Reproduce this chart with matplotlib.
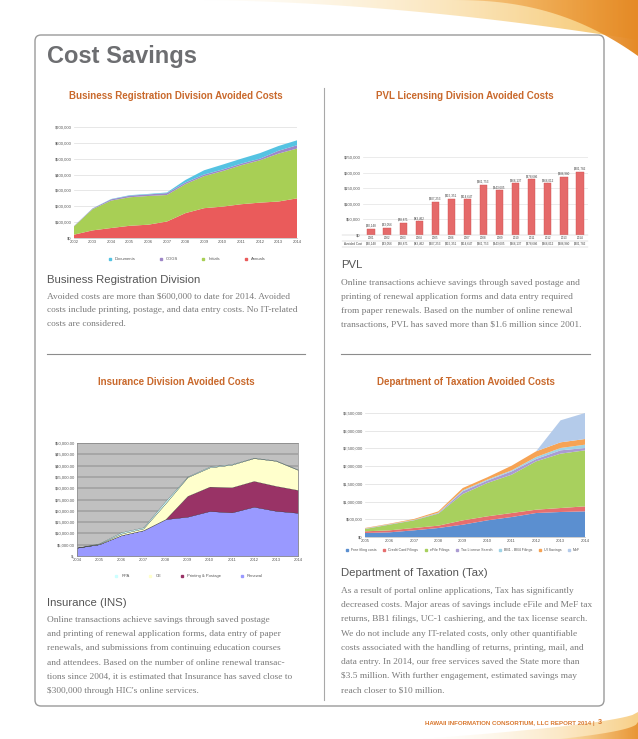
import matplotlib
matplotlib.use("Agg")
import matplotlib.pyplot as plt
import numpy as np
from matplotlib.patches import FancyBboxPatch, Polygon
from matplotlib.lines import Line2D

plt.rcParams['font.family'] = ['Liberation Sans', 'DejaVu Sans']

W, H = 638, 739

# Business Registration
br_years = list(range(2002, 2015))
br_annuals = [21000, 48000, 63000, 77000, 84000, 104000, 157000, 188000, 198000, 213000, 223000, 230000, 250000]
br_initials = [52000, 134000, 173000, 180000, 181000, 167000, 183000, 202000, 224000, 246000, 267000, 302000, 314000]
br_cogs = [2000, 4000, 8000, 10000, 10000, 12000, 10000, 10000, 10000, 10000, 10000, 18000, 21000]
br_documents = [500, 1000, 2000, 3000, 3000, 4000, 16000, 27000, 31000, 31000, 35000, 30000, 31000]

# PVL
pvl_years = list(range(2001, 2015))
pvl_cost = [20148, 23056, 38871, 43462, 107253, 115351, 114647, 161753, 143605, 166137, 178686, 166012, 186980, 201782]

# Insurance
ins_years = list(range(2004, 2015))
ins_renewal = [3700, 5200, 9200, 11400, 16300, 17400, 19900, 19300, 21800, 20000, 19100]
ins_printing = [0, 0, 0, 0, 0, 9200, 10800, 11100, 11400, 11000, 10100]
ins_ce = [0, 200, 700, 800, 7000, 8300, 8500, 10000, 10100, 11100, 8900]
ins_rpa = [0, 200, 600, 500, 1000, 300, 400, 300, 200, 200, 200]

# Taxation
tax_years = list(range(2005, 2015))
tax_free = [113000, 132000, 188000, 254000, 348000, 470000, 564000, 677000, 706000, 724000]
tax_credit = [47000, 56000, 66000, 66000, 122000, 113000, 113000, 94000, 112000, 141000]
tax_efile = [66000, 160000, 216000, 339000, 744000, 941000, 1082000, 1364000, 1534000, 1581000]
tax_license = [9000, 9000, 10000, 18000, 75000, 66000, 94000, 66000, 94000, 66000]
tax_bb = [5000, 5000, 5000, 10000, 28000, 28000, 29000, 57000, 66000, 94000]
tax_ui = [14000, 14000, 23000, 37000, 66000, 66000, 131000, 160000, 160000, 160000]
tax_mef = [0, 0, 0, 0, 0, 0, 0, 0, 621000, 734000]

ORANGE = "#c9692c"
TICK = dict(labelsize=3, colors="#555555", length=0, pad=1.5)

fig = plt.figure(figsize=(W / 100, H / 100), dpi=100)
fig.patch.set_facecolor("white")

bg = fig.add_axes([0, 0, 1, 1])
bg.set_xlim(0, W)
bg.set_ylim(H, 0)
bg.axis("off")


def gradient_shape(pts, c0, c1, a0, a1):
    poly = Polygon(pts, closed=True, fc="none", ec="none")
    bg.add_patch(poly)
    xs = [p[0] for p in pts]
    ys = [p[1] for p in pts]
    g = np.zeros((2, 256, 4))
    r0, r1 = np.array(matplotlib.colors.to_rgb(c0)), np.array(matplotlib.colors.to_rgb(c1))
    t = np.linspace(0, 1, 256)
    g[:, :, :3] = r0 + (r1 - r0) * t[:, None]
    g[:, :, 3] = a0 + (a1 - a0) * t
    im = bg.imshow(g, extent=[min(xs), max(xs), max(ys), min(ys)], aspect="auto", zorder=1)
    im.set_clip_path(poly)


# decorative swooshes
t = np.linspace(0, 1, 40)
top_light = [(190, 0), (638, 0), (638, 40)] + [(638 - 448 * s, 40 * (1 - s) ** 1.8) for s in t]
gradient_shape(top_light, "#fbe6b8", "#f5bd55", 0.0, 0.9)
top_dark = [(450, 0), (638, 0), (638, 56)] + [(638 - 188 * s, 56 * (1 - s) ** 2.4) for s in t]
gradient_shape(top_dark, "#f2a748", "#e58a26", 0.4, 1.0)
bot_light = [(420, 739), (638, 739), (638, 712)] + [(638 - 218 * s, 712 + 27 * s ** 0.6) for s in t]
gradient_shape(bot_light, "#fdf0d8", "#f6c46a", 0.0, 0.8)
bot_dark = [(560, 739), (638, 739), (638, 722)] + [(638 - 78 * s, 722 + 17 * s ** 0.5) for s in t]
gradient_shape(bot_dark, "#f3b560", "#e78f2d", 0.2, 0.9)

box = FancyBboxPatch((35, 35), 569, 671, boxstyle="round,pad=0,rounding_size=6",
                     fc="white", ec="#9a9a9a", lw=1.0, zorder=2)
bg.add_patch(box)
bg.plot([324, 324], [88, 700], color="#a8a8a8", lw=0.8, zorder=3)
bg.plot([47, 305], [354, 354], color="#8c8c8c", lw=0.8, zorder=3)
bg.plot([341, 590], [354, 354], color="#8c8c8c", lw=0.8, zorder=3)

bg.text(47, 56, "Cost Savings", fontsize=17, fontweight="bold", color="#6d6e71", va="center", zorder=3)
for x, y, s in [(176, 96, "Business Registration Division Avoided Costs"),
                (465, 96, "PVL Licensing Division Avoided Costs"),
                (176, 382, "Insurance Division Avoided Costs"),
                (466, 382, "Department of Taxation Avoided Costs")]:
    bg.text(x, y, s, fontsize=7.0, fontweight="bold", color=ORANGE, ha="center", va="center", zorder=3)

HEAD = dict(fontsize=8.2, color="#555555", va="center", zorder=3)
BODY = dict(fontsize=6.75, color="#7a7a7a", va="center", zorder=3, family=["Liberation Serif", "DejaVu Serif"])

bg.text(47, 280, "Business Registration Division", **HEAD)
br_text = ["Avoided costs are more than $600,000 to date for 2014. Avoided",
           "costs include printing, postage, and data entry costs. No IT-related",
           "costs are considered."]
for i, s in enumerate(br_text):
    bg.text(47, 297 + 13.5 * i, s, **BODY)

bg.text(341, 265, "PVL", **HEAD)
pvl_text = ["Online transactions achieve savings through saved postage and",
            "printing of renewal application forms and data entry required",
            "from paper renewals. Based on the number of online renewal",
            "transactions, PVL has saved more than $1.6 million since 2001."]
for i, s in enumerate(pvl_text):
    bg.text(341, 283 + 14 * i, s, **BODY)

bg.text(47, 603, "Insurance (INS)", **HEAD)
ins_text = ["Online transactions achieve savings through saved postage",
            "and printing of renewal application forms, data entry of paper",
            "renewals, and submissions from continuing education courses",
            "and attendees. Based on the number of online renewal transac-",
            "tions since 2004, it is estimated that Insurance has saved close to",
            "$300,000 through HIC's online services."]
for i, s in enumerate(ins_text):
    bg.text(47, 620 + 14.2 * i, s, **BODY)

bg.text(341, 573, "Department of Taxation (Tax)", **HEAD)
tax_text = ["As a result of portal online applications, Tax has significantly",
            "decreased costs. Major areas of savings include eFile and MeF tax",
            "returns, BB1 filings, UC-1 cashiering, and the tax license search.",
            "We do not include any IT-related costs, only other quantifiable",
            "costs associated with the handling of returns, printing, mail, and",
            "data entry. In 2014, our free services saved the State more than",
            "$3.5 million. With further engagement, estimated savings may",
            "reach closer to $10 million."]
for i, s in enumerate(tax_text):
    bg.text(341, 591 + 14.2 * i, s, **BODY)

bg.text(595, 723, "HAWAII INFORMATION CONSORTIUM, LLC REPORT 2014 |", fontsize=4.4, fontweight="bold",
        color="#d9782f", ha="right", va="center", family=["Liberation Sans Narrow", "Liberation Sans"], zorder=3)
bg.text(598, 723, "3", fontsize=5.2, fontweight="bold", color="#d9782f", va="center", zorder=3)


def px_axes(x0, y0, x1, y1):
    return fig.add_axes([x0 / W, 1 - y1 / H, (x1 - x0) / W, (y1 - y0) / H])


def sq(color):
    return Line2D([], [], marker="s", ls="none", markersize=2, color=color)


# --- Business Registration chart ---
ax = px_axes(74, 127, 297, 238)
br_cols = ["#ea5b5b", "#a8cf55", "#9e87c7", "#55c3e2"]
ax.stackplot(br_years, br_annuals, br_initials, br_cogs, br_documents, colors=br_cols, lw=0)
ax.set_xlim(2002, 2014)
ax.set_ylim(0, 700000)
ax.set_xticks(br_years)
ax.set_yticks(range(0, 700001, 100000))
ax.yaxis.set_major_formatter(lambda v, p: f"${v:,.0f}")
ax.tick_params(**TICK)
ax.grid(axis="y", color="#dddddd", lw=0.5)
ax.set_axisbelow(True)
for s in ["top", "right", "left"]:
    ax.spines[s].set_visible(False)
ax.spines["bottom"].set_color("#bbbbbb")
ax.spines["bottom"].set_linewidth(0.5)
ax.legend([sq(c) for c in br_cols[::-1]], ["Documents", "COGS", "Initials", "Annuals"],
          loc="center", bbox_to_anchor=(0.5, -0.19), ncol=4, frameon=False, fontsize=3,
          handletextpad=0.3, columnspacing=5, labelcolor="#555555")

# --- PVL chart ---
ax = px_axes(363, 157, 588, 235)
xs = np.arange(len(pvl_years))
ax.bar(xs, pvl_cost, width=0.45, color="#e56a6a", edgecolor="#cf4f4f", lw=0.3)
for x, v in zip(xs, pvl_cost):
    ax.text(x, v + 3500, f"${v:,}", fontsize=2.2, ha="center", va="bottom", color="#444444")
ax.set_xlim(-0.5, len(pvl_years) - 0.5)
ax.set_ylim(0, 250000)
ax.set_yticks(range(0, 250001, 50000))
ax.yaxis.set_major_formatter(lambda v, p: f"${v:,.0f}")
ax.set_xticks([])
ax.tick_params(**TICK)
ax.grid(axis="y", color="#e3e3e3", lw=0.5)
ax.set_axisbelow(True)
for s in ["top", "right", "left", "bottom"]:
    ax.spines[s].set_visible(False)
tr = ax.get_xaxis_transform()
for yy in [0, -0.08, -0.15]:
    ax.plot([-0.5 - 1.3, len(pvl_years) - 0.5], [yy, yy], transform=tr, color="#bbbbbb", lw=0.3, clip_on=False)
for x, yr, v in zip(xs, pvl_years, pvl_cost):
    ax.text(x, -0.04, str(yr), transform=tr, fontsize=2.2, ha="center", va="center", color="#444444")
    ax.text(x, -0.115, f"${v:,}", transform=tr, fontsize=2.2, ha="center", va="center", color="#444444")
ax.text(-0.55, -0.115, "Avoided Cost", transform=tr, fontsize=2.2, ha="right", va="center", color="#444444")

# --- Insurance chart ---
ax = px_axes(77, 443, 298, 556)
ins_cols = ["#9999ff", "#993366", "#ffffcc", "#ccffff"]
ax.stackplot(ins_years, ins_renewal, ins_printing, ins_ce, ins_rpa, colors=ins_cols,
             edgecolor="#222222", lw=0.15)
ax.set_facecolor("#c0c0c0")
ax.set_xlim(2004, 2014)
ax.set_ylim(0, 50000)
ax.set_xticks(ins_years)
ax.set_yticks(range(0, 50001, 5000))
ax.yaxis.set_major_formatter(lambda v, p: "$-" if v == 0 else f"${v:,.2f}")
ax.tick_params(**TICK)
ax.grid(axis="y", color="#555555", lw=0.35)
ax.set_axisbelow(True)
for s in ax.spines.values():
    s.set_color("#888888")
    s.set_linewidth(0.5)
ax.legend([sq(c) for c in ["#ccffff", "#ffffcc", "#993366", "#9999ff"]],
          ["RPA", "CE", "Printing & Postage", "Renewal"],
          loc="center", bbox_to_anchor=(0.5, -0.18), ncol=4, frameon=False, fontsize=3,
          handletextpad=0.2, columnspacing=4, labelcolor="#555555")

# --- Taxation chart ---
ax = px_axes(365, 413, 585, 537)
tax_cols = ["#5b8fd0", "#e66e6e", "#a8d05e", "#aa9bd2", "#9fd3e6", "#f6a354", "#b4cbea"]
ax.stackplot(tax_years, tax_free, tax_credit, tax_efile, tax_license, tax_bb, tax_ui, tax_mef,
             colors=tax_cols, lw=0)
ax.set_xlim(2005, 2014)
ax.set_ylim(0, 3500000)
ax.set_xticks(tax_years)
ax.set_yticks(range(0, 3500001, 500000))
ax.yaxis.set_major_formatter(lambda v, p: f"${v:,.0f}")
ax.tick_params(**TICK)
ax.grid(axis="y", color="#dddddd", lw=0.5)
ax.set_axisbelow(True)
for s in ["top", "right", "left"]:
    ax.spines[s].set_visible(False)
ax.spines["bottom"].set_color("#bbbbbb")
ax.spines["bottom"].set_linewidth(0.5)
ax.legend([sq(c) for c in tax_cols],
          ["Free filing costs", "Credit Card Filings", "eFile Filings", "Tax License Search",
           "BB1 - BB4 Filings", "UI Savings", "MeF"],
          loc="center", bbox_to_anchor=(0.44, -0.105), ncol=7, frameon=False, fontsize=2.6,
          handletextpad=0.2, columnspacing=1.0, labelcolor="#555555", markerscale=0.8)

fig.savefig("out.png", dpi=100, facecolor="white")
